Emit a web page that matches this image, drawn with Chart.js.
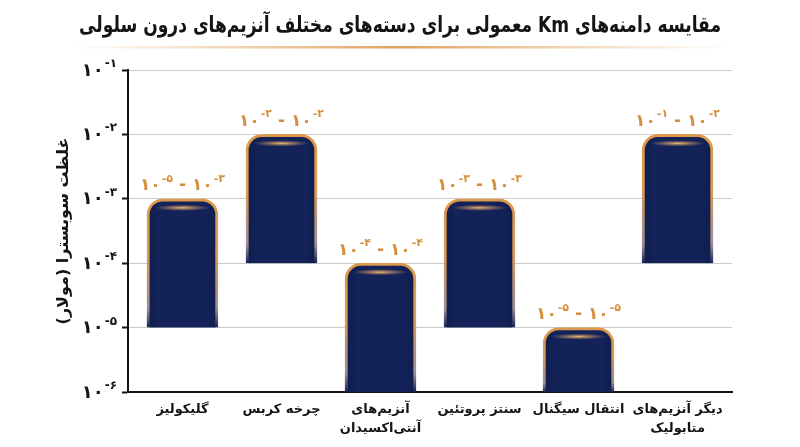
<!DOCTYPE html>
<html lang="fa">
<head>
<meta charset="utf-8">
<script src="https://cdn.jsdelivr.net/npm/chart.js@4.4.1/dist/chart.umd.min.js"></script>
<style>
  html, body { margin: 0; padding: 0; background: #fff; }
  #wrap { width: 800px; height: 447px; }
</style>
</head>
<body>
<div id="wrap"><canvas id="kmChart" dir="rtl"></canvas></div>
<script>
// Km ranges per enzyme group (molar), log axis 1e-6 .. 1e-1
const TITLE = 'مقایسه دامنه‌های Km معمولی برای دسته‌های مختلف آنزیم‌های درون سلولی';
const Y_TITLE = 'غلظت سوبسترا (مولار)';
const categories = [
  'گلیکولیز',
  'چرخه کربس',
  ['آنزیم‌های', 'آنتی‌اکسیدان'],
  'سنتز پروتئین',
  'انتقال سیگنال',
  ['دیگر آنزیم‌های', 'متابولیک']
];
const kmLow  = [1e-5, 1e-4, 1e-6, 1e-5, 1e-6, 1e-4];
const kmHigh = [1e-3, 1e-2, 1e-4, 1e-3, 1e-5, 1e-2];
// range labels exactly as printed above the bars (exponent left / right of the dash)
const rangeExpLeft  = ['-۵', '-۲', '-۴', '-۳', '-۵', '-۱'];
const rangeExpRight = ['-۳', '-۲', '-۴', '-۳', '-۵', '-۲'];
const yTickValues = [1e-6, 1e-5, 1e-4, 1e-3, 1e-2, 1e-1];
const yTickExps   = ['-۶', '-۵', '-۴', '-۳', '-۲', '-۱'];

const FONT = '"DejaVu Sans", sans-serif';
const NAVY = '#13235a';
const ORANGE = '#dd9a4e';
const LABEL_ORANGE = '#d58e3c';
const INK = '#141414';

// ─── helpers ────────────────────────────────────────────────────────────
function powWidth(ctx, exp, baseSize, expSize) {
  ctx.font = `bold ${baseSize}px ${FONT}`;
  const wb = ctx.measureText('۱۰').width;
  ctx.font = `bold ${expSize}px ${FONT}`;
  const we = ctx.measureText(exp).width;
  return wb + we + 1;
}

function drawPow(ctx, x, y, exp, baseSize, expSize) {
  // draws "10^exp" starting at x, vertically centred on y; returns width
  ctx.textAlign = 'left';
  ctx.textBaseline = 'middle';
  ctx.font = `bold ${baseSize}px ${FONT}`;
  ctx.fillText('۱۰', x, y);
  const wb = ctx.measureText('۱۰').width;
  ctx.font = `bold ${expSize}px ${FONT}`;
  ctx.fillText(exp, x + wb + 1, y - baseSize * 0.4);
  return wb + 1 + ctx.measureText(exp).width;
}

function barBorder(c) {
  const chart = c.chart;
  if (!chart.chartArea || c.dataIndex == null) return ORANGE;
  const y = chart.scales.y;
  const top = y.getPixelForValue(kmHigh[c.dataIndex]);
  const bot = y.getPixelForValue(kmLow[c.dataIndex]);
  const g = chart.ctx.createLinearGradient(0, top, 0, bot);
  g.addColorStop(0, ORANGE);
  g.addColorStop(0.45, 'rgba(216,150,78,0.95)');
  g.addColorStop(0.85, 'rgba(120,95,105,0.7)');
  g.addColorStop(1, NAVY);
  return g;
}

function barFill(c) {
  const chart = c.chart;
  if (!chart.chartArea || c.dataIndex == null) return NAVY;
  const x = chart.scales.x.getPixelForValue(c.dataIndex);
  const g = chart.ctx.createLinearGradient(x - 36, 0, x + 36, 0);
  g.addColorStop(0, '#0f1c4a');
  g.addColorStop(0.18, NAVY);
  g.addColorStop(0.82, NAVY);
  g.addColorStop(1, '#0f1c4a');
  return g;
}

// ─── custom drawing: title, y tick powers, bar glow and range labels ────
const decorPlugin = {
  id: 'decor',
  afterDraw(chart) {
    const ctx = chart.ctx;
    ctx.save();

    // title (squeezed to the reference width) + fading underline
    ctx.save();
    ctx.direction = 'rtl';
    ctx.fillStyle = INK;
    ctx.font = `bold 22px ${FONT}`;
    ctx.textAlign = 'center';
    ctx.textBaseline = 'middle';
    const tw = ctx.measureText(TITLE).width;
    const sx = Math.min(1, 642 / tw);
    ctx.translate(400, 26);
    ctx.scale(sx, 1);
    ctx.fillText(TITLE, 0, 0);
    ctx.restore();
    const ul = ctx.createLinearGradient(70, 0, 730, 0);
    ul.addColorStop(0, 'rgba(230,170,100,0)');
    ul.addColorStop(0.5, 'rgba(220,150,75,0.9)');
    ul.addColorStop(1, 'rgba(230,170,100,0)');
    ctx.fillStyle = ul;
    ctx.fillRect(70, 46, 660, 2.5);

    ctx.direction = 'ltr';

    // y tick labels as powers of ten
    const ys = chart.scales.y;
    ctx.fillStyle = INK;
    yTickValues.forEach((v, i) => {
      const py = ys.getPixelForValue(v);
      const w = powWidth(ctx, yTickExps[i], 18, 12);
      drawPow(ctx, 117 - w, py + 1, yTickExps[i], 18, 12);
    });

    // bars: top glow + range label
    const meta = chart.getDatasetMeta(0);
    meta.data.forEach((el, i) => {
      const top = Math.min(el.y, el.base);

      ctx.save();
      ctx.translate(el.x, top + 9);
      ctx.scale(1, 0.11);
      const rg = ctx.createRadialGradient(0, 0, 0, 0, 0, 28);
      rg.addColorStop(0, 'rgba(245,190,120,0.95)');
      rg.addColorStop(0.5, 'rgba(220,160,100,0.5)');
      rg.addColorStop(1, 'rgba(200,140,90,0)');
      ctx.fillStyle = rg;
      ctx.beginPath();
      ctx.arc(0, 0, 28, 0, Math.PI * 2);
      ctx.fill();
      ctx.restore();

      ctx.fillStyle = LABEL_ORANGE;
      const wl = powWidth(ctx, rangeExpLeft[i], 17, 11);
      const wr = powWidth(ctx, rangeExpRight[i], 17, 11);
      ctx.font = `bold 17px ${FONT}`;
      const wd = ctx.measureText(' - ').width;
      let x = el.x - (wl + wd + wr) / 2;
      const ly = top - 13;
      x += drawPow(ctx, x, ly, rangeExpLeft[i], 17, 11);
      ctx.font = `bold 17px ${FONT}`;
      ctx.textBaseline = 'middle';
      ctx.fillText(' - ', x, ly);
      x += wd;
      drawPow(ctx, x, ly, rangeExpRight[i], 17, 11);
    });

    ctx.restore();
  }
};

// ─── chart ──────────────────────────────────────────────────────────────
const kmData = categories.map((_, i) => ({ x: i, y: [kmLow[i], kmHigh[i]] }));

new Chart(document.getElementById('kmChart'), {
  type: 'bar',
  data: {
    datasets: [{
      data: kmData,
      backgroundColor: barFill,
      borderColor: barBorder,
      borderWidth: 3,
      borderSkipped: 'bottom',
      borderRadius: { topLeft: 16, topRight: 16, bottomLeft: 0, bottomRight: 0 },
      barThickness: 71
    }]
  },
  options: {
    responsive: true, maintainAspectRatio: false,
    animation: false,
    layout: { padding: { top: 70, right: 68, left: 0, bottom: 0 } },
    plugins: { legend: { display: false }, tooltip: { enabled: false } },
    scales: {
      x: {
        type: 'linear', min: -0.55, max: 5.55, offset: false,
        afterBuildTicks: s => { s.ticks = categories.map((_, i) => ({ value: i })); },
        afterFit: s => { s.height = 55; },
        grid: { display: false, drawTicks: false },
        border: { display: true, color: INK, width: 2 },
        ticks: {
          autoSkip: false, maxRotation: 0, padding: 8,
          color: INK, font: { family: FONT, size: 13, weight: 'bold', lineHeight: 1.45 },
          callback: v => categories[v]
        }
      },
      y: {
        type: 'logarithmic', min: 1e-6, max: 1e-1,
        afterBuildTicks: s => { s.ticks = yTickValues.map(v => ({ value: v })); },
        afterFit: s => { s.width = 128; },
        grid: { color: '#cbcbcb', lineWidth: 1, tickColor: INK, tickLength: 6, tickWidth: 2 },
        border: { display: true, color: INK, width: 2 },
        ticks: { display: false },
        title: {
          display: true, text: Y_TITLE, color: INK,
          font: { family: FONT, size: 16, weight: 'bold' },
          padding: { top: 54, bottom: 0 }
        }
      }
    }
  },
  plugins: [decorPlugin]
});
</script>
</body>
</html>
